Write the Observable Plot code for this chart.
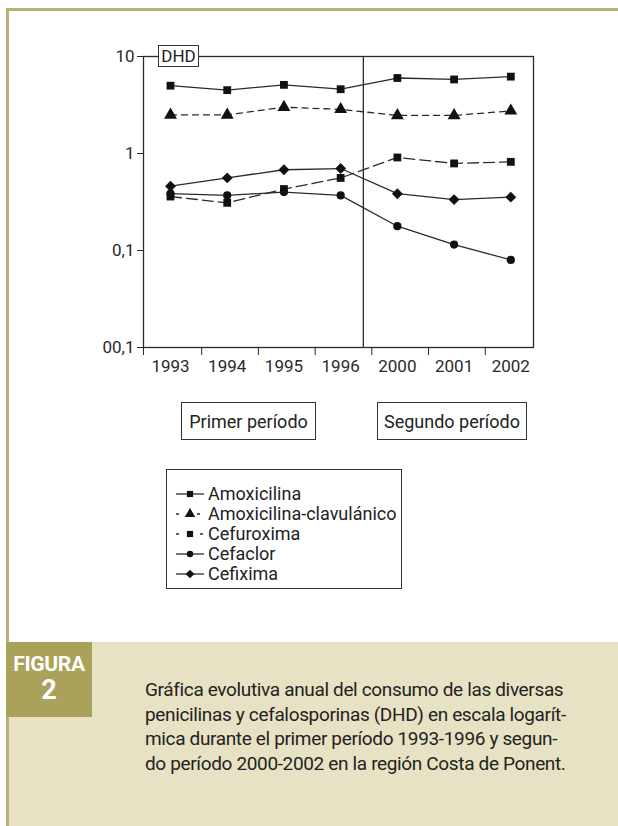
<!DOCTYPE html>
<html>
<head>
<meta charset="utf-8">
<script src="https://cdn.jsdelivr.net/npm/d3@7"></script>
<script src="https://cdn.jsdelivr.net/npm/@observablehq/plot@0.6"></script>
<style>
  html, body { margin: 0; padding: 0; }
  body { width: 618px; height: 826px; position: relative; overflow: hidden; background: #fff;
         font-family: Roboto, "Liberation Sans", sans-serif; color: #222; }
  .abs { position: absolute; box-sizing: border-box; }
  .box { border: 1.3px solid #333; background: #fff; display: flex; align-items: center; justify-content: center; font-size: 18px; color: #222; }
  .legrow { position: absolute; left: 8px; height: 20px; display: flex; align-items: center; font-size: 18px; line-height: 20px; }
  .legrow svg { margin-right: 3px; }
</style>
</head>
<body>
<div class="abs" style="left:6px;top:8px;width:612px;height:3px;background:#b8b175"></div>
<div class="abs" style="left:6px;top:8px;width:3px;height:818px;background:#b8b175"></div>
<div id="chart" class="abs" style="left:0;top:0"></div>
<div class="abs box" style="left:158px;top:45px;width:41px;height:22px;font-size:17px;">DHD</div>
<div class="abs box" style="left:181px;top:402px;width:135px;height:38px;">Primer período</div>
<div class="abs box" style="left:377px;top:402px;width:150px;height:38px;">Segundo período</div>
<div id="legend" class="abs" style="left:166px;top:469px;width:236px;height:120px;border:1.3px solid #333;background:#fff"></div>
<div class="abs" style="left:9px;top:642px;width:609px;height:184px;background:#e8e2c4"></div>
<div class="abs" style="left:6px;top:642px;width:86px;height:75px;background:#aaa25b;color:#fff;font-weight:bold;text-align:center;">
  <div style="position:absolute;left:0;width:86px;top:11px;font-size:21px;line-height:22px;letter-spacing:-0.3px">FIGURA</div>
  <div style="position:absolute;left:0;width:86px;top:34px;font-size:27px;line-height:28px;">2</div>
</div>
<div class="abs" style="left:145px;top:678px;width:460px;font-size:19px;line-height:24.7px;color:#222;letter-spacing:-0.35px;white-space:nowrap">
Gráfica evolutiva anual del consumo de las diversas<br>
penicilinas y cefalosporinas (DHD) en escala logarít-<br>
mica durante el primer período 1993-1996 y segun-<br>
do período 2000-2002 en la región Costa de Ponent.
</div>
<script>
// ---- data ----
const years = ["1993", "1994", "1995", "1996", "2000", "2001", "2002"];
const seriesNames = ["Amoxicilina", "Amoxicilina-clavulánico", "Cefuroxima", "Cefaclor", "Cefixima"];
const amoxicilina = [5.0, 4.5, 5.1, 4.6, 6.0, 5.8, 6.2];
const amoxClav = [2.5, 2.5, 3.0, 2.85, 2.47, 2.47, 2.75];
const cefuroxima = [0.36, 0.31, 0.43, 0.56, 0.91, 0.79, 0.82];
const cefaclor = [0.385, 0.37, 0.40, 0.37, 0.178, 0.115, 0.08];
const cefixima = [0.46, 0.56, 0.68, 0.70, 0.385, 0.335, 0.355];
const yTicks = [10, 1, 0.1, 0.01];
const yTickLabels = ["10", "1", "0,1", "00,1"];
const periodBreak = 3.4; // between 1996 and 2000

// ---- styles per series ----
const styles = [
  {values: amoxicilina, symbol: "square", r: 4.4, dash: null},
  {values: amoxClav, symbol: "triangle", r: 4.8, dash: "6,5"},
  {values: cefuroxima, symbol: "square", r: 4.4, dash: "11,5"},
  {values: cefaclor, symbol: "circle", r: 4.1, dash: null},
  {values: cefixima, symbol: "diamond2", r: 4.9, dash: null}
];

const rows = styles.map((s, k) => s.values.map((v, i) => ({series: seriesNames[k], i, v})));

const xDomain = [-0.476, 6.40];
const xTickMarks = [xDomain[0], 0.55, 1.55, 2.55, 3.55, 4.55, 5.55];
const yLabelMap = new Map(yTicks.map((t, k) => [t, yTickLabels[k]]));
const ink = "#2a2a2a";

const marks = [
  Plot.frame({stroke: ink, strokeWidth: 1.3}),
  Plot.ruleX([periodBreak], {stroke: ink, strokeWidth: 1.3}),
  Plot.axisY({ticks: yTicks, tickFormat: d => yLabelMap.get(d), tickSize: 6, tickPadding: 3, fontSize: 17, stroke: ink, color: ink, label: null}),
  Plot.axisX({ticks: xTickMarks, tickFormat: () => "", tickSize: 8, stroke: ink, label: null}),
  Plot.axisX({ticks: d3.range(years.length), tickFormat: i => years[i], tickSize: 0, tickPadding: 12, fontSize: 17, color: ink, label: null})
];
styles.forEach((s, k) => {
  marks.push(Plot.line(rows[k], {x: "i", y: "v", stroke: ink, strokeWidth: 1.3, strokeDasharray: s.dash}));
  marks.push(Plot.dot(rows[k], {x: "i", y: "v", symbol: () => s.symbol, r: s.r, fill: "#111", stroke: "none"}));
});

const chart = Plot.plot({
  width: 618,
  height: 400,
  marginLeft: 143,
  marginRight: 85,
  marginTop: 56,
  marginBottom: 53,
  style: {fontFamily: "Roboto, 'Liberation Sans', sans-serif", fontSize: "17px", color: ink, background: "transparent"},
  x: {type: "linear", domain: xDomain, axis: null, label: null},
  y: {type: "log", domain: [0.01, 10], axis: null, label: null},
  symbol: {type: "identity"},
  marks
});
document.getElementById("chart").appendChild(chart);

// ---- legend ----
const legend = document.getElementById("legend");
const legendDash = [null, "3,4", "3,5", null, null];
seriesNames.forEach((name, k) => {
  const row = document.createElement("div");
  row.className = "legrow";
  row.style.top = (14 + k * 20) + "px";
  const svg = d3.create("svg").attr("width", 30).attr("height", 20);
  const s = styles[k];
  svg.append("line").attr("x1", 1).attr("x2", 29).attr("y1", 10).attr("y2", 10)
    .attr("stroke", ink).attr("stroke-width", 1.3)
    .attr("stroke-dasharray", legendDash[k] || null);
  const symMap = {square: d3.symbolSquare, triangle: d3.symbolTriangle, circle: d3.symbolCircle, diamond2: d3.symbolDiamond2};
  const size = Math.PI * (s.r * 0.8) ** 2;
  if (k === 1 || k === 2) {
    svg.append("rect").attr("x", 8).attr("y", 4).attr("width", 14).attr("height", 12).attr("fill", "#fff");
  }
  svg.append("path").attr("transform", "translate(15,10)").attr("d", d3.symbol(symMap[s.symbol], size)()).attr("fill", "#111");
  row.appendChild(svg.node());
  const t = document.createElement("span");
  t.textContent = name;
  row.appendChild(t);
  legend.appendChild(row);
});
</script>
</body>
</html>
